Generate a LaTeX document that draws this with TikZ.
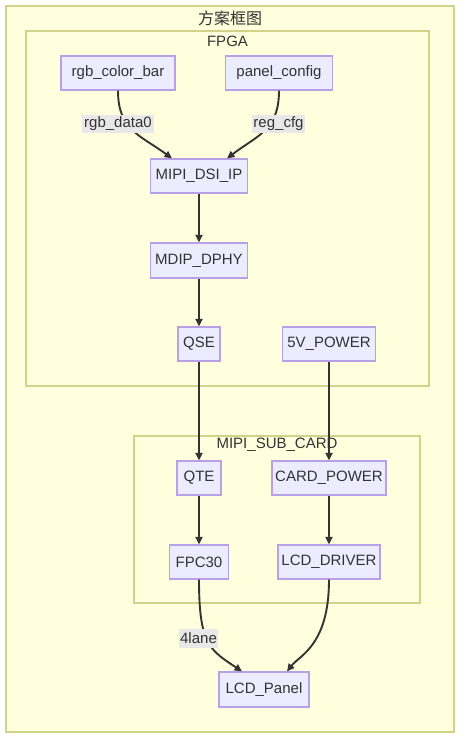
\documentclass[tikz,border=0pt]{standalone}
\usepackage{fontspec}
\setmainfont{Liberation Sans}
\newfontfamily\cjk{Noto Sans CJK SC}
\usetikzlibrary{arrows.meta}
\definecolor{clfill}{HTML}{FFFFDE}
\definecolor{clstroke}{HTML}{D2D28A}
\definecolor{ndfill}{HTML}{ECECFF}
\definecolor{ndstroke}{HTML}{B7A0E8}
\definecolor{txt}{HTML}{333333}
\definecolor{edge}{HTML}{333333}
\definecolor{lbl}{HTML}{E8E8E8}
\begin{document}
\begin{tikzpicture}[x=1pt,y=-1pt,
  cluster/.style={draw=clstroke,fill=clfill,line width=1.3pt},
  ctitle/.style={text=txt,font=\fontsize{15}{18}\selectfont,inner sep=0pt},
  box/.style={draw=ndstroke,fill=ndfill,line width=1.2pt,text=txt,
    font=\fontsize{15}{18}\selectfont,inner sep=0pt,minimum height=34pt},
  elabel/.style={fill=lbl,text=txt,font=\fontsize{15}{18}\selectfont,
    inner sep=0pt,minimum height=18pt},
  link/.style={draw=edge,line width=1.9pt,-{Triangle[length=7.5pt,width=7pt]}}]
\useasboundingbox (0,0) rectangle (471,742);
\fill[white] (0,0) rectangle (471,742);
% clusters
\draw[cluster] (6,6) rectangle (454,732);
\node[ctitle,font=\fontsize{16}{18}\selectfont] (tmain) at (230,18) {\cjk 方案框图};
\draw[cluster] (26,31) rectangle (429,386);
\node[ctitle] (tfpga) at (227.5,41) {FPGA};
\draw[cluster] (134,436) rectangle (420,603);
% nodes
\node[box,minimum width=114pt] (rgb) at (118,73) {rgb\_color\_bar};
\node[box,minimum width=107pt] (pcfg) at (279,73) {panel\_config};
\node[box,minimum width=97pt] (mipi) at (199,176) {MIPI\_DSI\_IP};
\node[box,minimum width=97pt,minimum height=35pt] (mdip) at (199,260.5) {MDIP\_DPHY};
\node[box,minimum width=42pt] (qse) at (199,344) {QSE};
\node[box,minimum width=93pt] (pwr) at (329,344) {5V\_POWER};
\node[box,minimum width=44pt] (qte) at (199,478) {QTE};
\node[box,minimum width=114pt] (card) at (329,478) {CARD\_POWER};
\node[box,minimum width=59pt] (fpc) at (199,562) {FPC30};
\node[box,minimum width=102pt] (drv) at (329,562) {LCD\_DRIVER};
\node[box,minimum width=90pt,minimum height=35pt] (lcd) at (264,689.5) {LCD\_Panel};
% edges
\draw[link] (rgb.south) .. controls (118,130) and (140,135) .. ([xshift=-27pt]mipi.north);
\draw[link] (pcfg.south) .. controls (279,130) and (258,135) .. ([xshift=28pt]mipi.north);
\draw[link] (mipi) -- (mdip);
\draw[link] (mdip) -- (qse);
\draw[link] (qse.south) -- (qse.south |- qte.north);
\draw[link] (pwr.south) -- (pwr.south |- card.north);
\draw[link] (qte) -- (fpc);
\draw[link] (card) -- (drv);
\draw[link] (fpc.south) .. controls (199,645) and (210,650) .. ([xshift=-22pt]lcd.north);
\draw[link] (drv.south) .. controls (329,645) and (300,655) .. ([xshift=23pt]lcd.north);
% edge labels
\node[elabel,minimum width=72pt] (l1) at (118,124) {rgb\_data0};
\node[elabel,minimum width=53pt] (l2) at (278.5,124) {reg\_cfg};
\node[elabel,minimum width=39pt,minimum height=19pt] (l3) at (198.5,638.5) {4lane};
\node[ctitle] (tsub) at (277,445) {MIPI\_SUB\_CARD};
\end{tikzpicture}
\end{document}
